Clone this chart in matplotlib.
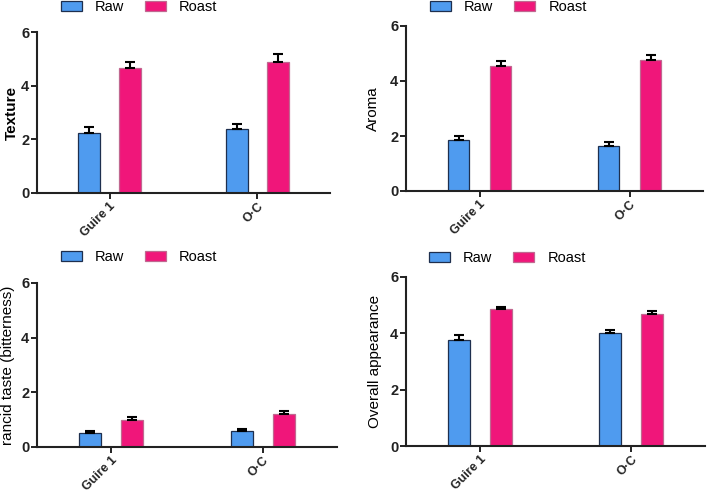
import matplotlib
matplotlib.use("Agg")
import matplotlib.pyplot as plt
import numpy as np

plt.rcParams['font.family'] = ['Liberation Sans', 'DejaVu Sans']

categories = ["Guire 1", "O·C"]
series = ["Raw", "Roast"]

texture_raw = [2.25, 2.37]
texture_raw_err = [0.20, 0.20]
texture_roast = [4.65, 4.89]
texture_roast_err = [0.23, 0.29]

aroma_raw = [1.85, 1.65]
aroma_raw_err = [0.14, 0.14]
aroma_roast = [4.56, 4.76]
aroma_roast_err = [0.17, 0.19]

rancid_raw = [0.50, 0.59]
rancid_raw_err = [0.09, 0.07]
rancid_roast = [1.00, 1.19]
rancid_roast_err = [0.10, 0.12]

overall_raw = [3.78, 4.00]
overall_raw_err = [0.17, 0.12]
overall_roast = [4.85, 4.68]
overall_roast_err = [0.07, 0.13]

yticks = [0, 2, 4, 6]

W, H = 709, 492
fig = plt.figure(figsize=(W / 100, H / 100), dpi=100)

blue = "#4F9BEF"
pink = "#F0167A"
blue_edge = "#1E2F4E"
pink_edge = "#C06890"

panels = [
    # (x0, x1, y_top(6), y_zero(0), ylabel, bold, raw, raw_err, roast, roast_err, legend_y, legend_x, label_x)
    (37, 330, 32, 193, "Texture", True, texture_raw, texture_raw_err, texture_roast, texture_roast_err, 8, 62, 12),
    (406, 703, 26, 191, "Aroma", False, aroma_raw, aroma_raw_err, aroma_roast, aroma_roast_err, 8, 431, 373),
    (37, 337, 283, 447, "rancid taste (bitterness)", False, rancid_raw, rancid_raw_err, rancid_roast, rancid_roast_err, 258, 62, 8),
    (406, 705, 277, 446, "Overall appearance", False, overall_raw, overall_raw_err, overall_roast, overall_roast_err, 259, 430, 375),
]

for (x0, x1, yt, yz, lab, bold, raw, rawe, roa, roae, ly, lx, labx) in panels:
    ax = fig.add_axes([x0 / W, 1 - yz / H, (x1 - x0) / W, (yz - yt) / H])
    x = np.arange(len(categories))
    off = 0.14
    w = 0.145
    ax.bar(x - off, raw, w, color=blue, edgecolor=blue_edge, linewidth=0.9, label=series[0], zorder=2)
    ax.bar(x + off, roa, w, color=pink, edgecolor=pink_edge, linewidth=0.9, label=series[1], zorder=2)
    ax.errorbar(x - off, raw, yerr=[np.zeros(len(raw)), rawe], fmt='none', ecolor='black',
                elinewidth=1.5, capsize=3.5, capthick=1.5, zorder=3)
    ax.errorbar(x + off, roa, yerr=[np.zeros(len(roa)), roae], fmt='none', ecolor='black',
                elinewidth=1.5, capsize=3.5, capthick=1.5, zorder=3)
    ax.set_xlim(-0.49, 1.49)
    ax.set_ylim(0, 6)
    ax.set_yticks(yticks)
    ax.set_yticklabels([str(t) for t in yticks], fontsize=10.5, fontweight='bold')
    ax.set_xticks(x)
    ax.set_xticklabels(categories, rotation=45, ha='right', rotation_mode='anchor',
                       fontsize=9, fontweight='bold')
    for s in ['top', 'right']:
        ax.spines[s].set_visible(False)
    for s in ['left', 'bottom']:
        ax.spines[s].set_linewidth(1.5)
        ax.spines[s].set_color('#222222')
    ax.tick_params(axis='both', length=4, width=1.4, pad=1.5, colors='#222222')
    ax.tick_params(axis='x', pad=1)
    ax.set_ylabel(lab, fontsize=11, fontweight='bold' if bold else 'normal')
    ax.yaxis.set_label_coords((labx - x0) / (x1 - x0), 0.5)
    ax.yaxis.label.set_va('center')
    ax.legend(loc='lower left', bbox_to_anchor=((lx - 4 - x0) / (x1 - x0), (yz - ly - 9) / (yz - yt)),
              ncol=2, frameon=False, fontsize=10.5, handlelength=1.45, handleheight=0.75,
              columnspacing=1.4, handletextpad=0.9, borderaxespad=0, borderpad=0.2)

fig.savefig("out.png", dpi=100)
